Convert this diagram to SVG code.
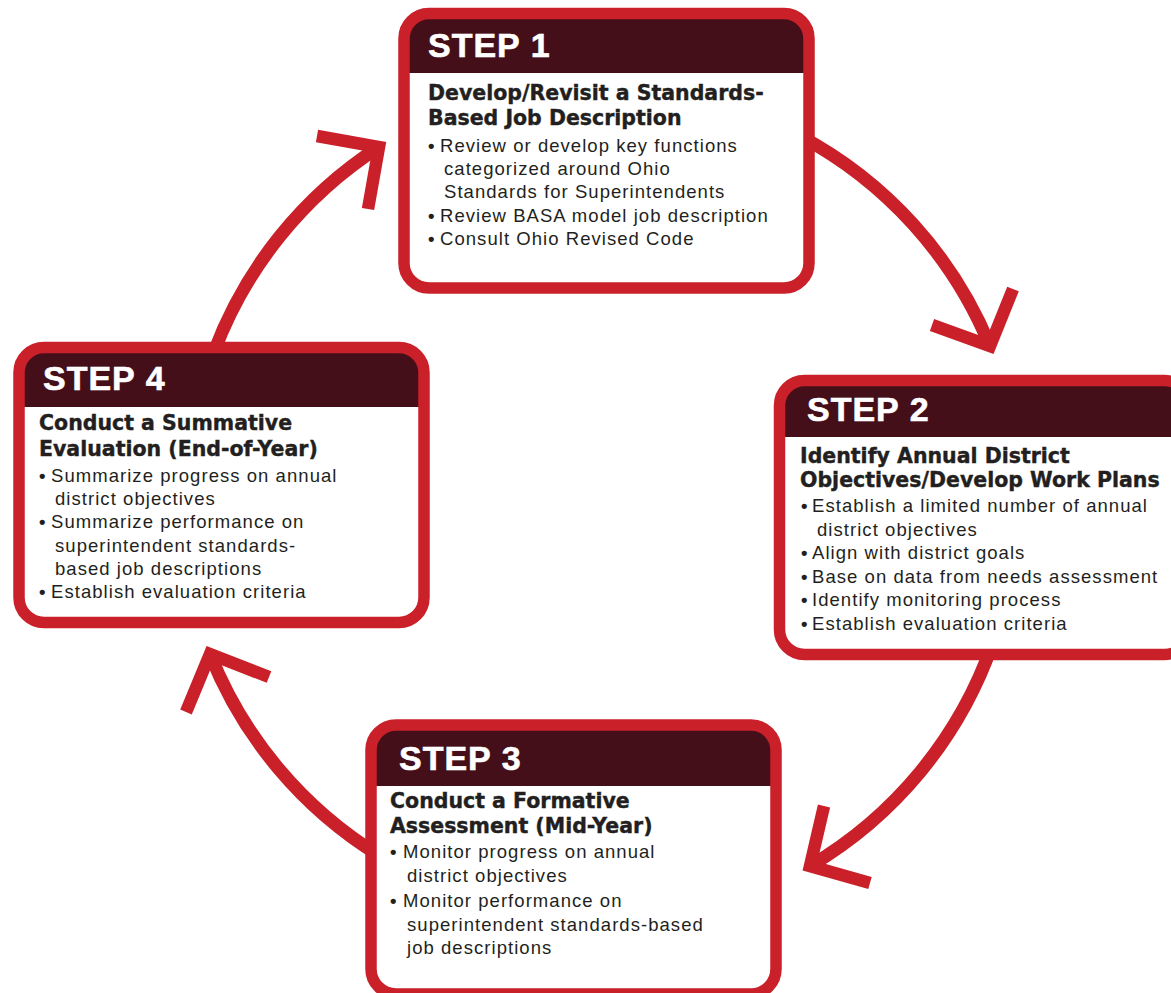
<svg xmlns="http://www.w3.org/2000/svg" width="1171" height="993" viewBox="0 0 1171 993">
<style>
.arc{fill:none;stroke:#c9202a;stroke-width:13;stroke-linecap:butt}
.head{fill:none;stroke:#c9202a;stroke-width:12.5;stroke-linejoin:miter;stroke-miterlimit:10;stroke-linecap:butt}
.body{fill:#ffffff}
.hdr{fill:#450f1a}
.border{fill:none;stroke:#c9202a;stroke-width:11.5}
.step{font-family:"Liberation Sans",Arial,sans-serif;font-weight:bold;font-size:34px;letter-spacing:1px;fill:#ffffff;stroke:#ffffff;stroke-width:0.6}
.ttl{font-family:"DejaVu Sans",sans-serif;font-weight:bold;font-size:20.5px;fill:#231f20;stroke:#231f20;stroke-width:0.4}
.txt{font-family:"Liberation Sans",Arial,sans-serif;font-size:18.5px;letter-spacing:1.05px;fill:#231f20}
.b{font-weight:bold}
</style>
<rect width="1171" height="993" fill="#ffffff"/>
<g id="connectors">
<path class="arc" d="M214,352 A418,418 0 0 1 379,147"/>
<polyline class="head" points="317,136 379,147 368,209"/>
<path class="arc" d="M800,136 A418,418 0 0 1 990,346"/>
<polyline class="head" points="932,325 990,346 1013,289"/>
<path class="arc" d="M992,645 A418,418 0 0 1 810,866"/>
<polyline class="head" points="824,806 810,866 870,883"/>
<path class="arc" d="M380,856 A418,418 0 0 1 210,654"/>
<polyline class="head" points="186,712 210,654 269,677"/>
</g>
<g id="step1">
<rect class="body" x="404" y="13.5" width="405" height="274.5" rx="25"/>
<path class="hdr" d="M404,73 V38.5 A25,25 0 0 1 429,13.5 H784 A25,25 0 0 1 809,38.5 V73 Z"/>
<rect class="border" x="404" y="13.5" width="405" height="274.5" rx="25"/>
<text class="step" x="428" y="57">STEP 1</text>
<text class="ttl" x="428" y="100">Develop/Revisit a Standards-</text>
<text class="ttl" x="428" y="125">Based Job Description</text>
<text class="txt" x="428" y="152"><tspan class="b">•</tspan><tspan x="440">Review or develop key functions</tspan></text>
<text class="txt" x="444" y="175">categorized around Ohio</text>
<text class="txt" x="444" y="198">Standards for Superintendents</text>
<text class="txt" x="428" y="222"><tspan class="b">•</tspan><tspan x="440">Review BASA model job description</tspan></text>
<text class="txt" x="428" y="245"><tspan class="b">•</tspan><tspan x="440">Consult Ohio Revised Code</tspan></text>
</g>
<g id="step2">
<rect class="body" x="779.5" y="380.5" width="410" height="274" rx="25"/>
<path class="hdr" d="M779.5,437 V405.5 A25,25 0 0 1 804.5,380.5 H1164.5 A25,25 0 0 1 1189.5,405.5 V437 Z"/>
<rect class="border" x="779.5" y="380.5" width="410" height="274" rx="25"/>
<text class="step" x="807" y="421">STEP 2</text>
<text class="ttl" x="800" y="463">Identify Annual District</text>
<text class="ttl" x="800" y="487">Objectives/Develop Work Plans</text>
<text class="txt" x="801" y="512"><tspan class="b">•</tspan><tspan x="812">Establish a limited number of annual</tspan></text>
<text class="txt" x="817" y="536">district objectives</text>
<text class="txt" x="801" y="559"><tspan class="b">•</tspan><tspan x="812">Align with district goals</tspan></text>
<text class="txt" x="801" y="583"><tspan class="b">•</tspan><tspan x="812">Base on data from needs assessment</tspan></text>
<text class="txt" x="801" y="606"><tspan class="b">•</tspan><tspan x="812">Identify monitoring process</tspan></text>
<text class="txt" x="801" y="630"><tspan class="b">•</tspan><tspan x="812">Establish evaluation criteria</tspan></text>
</g>
<g id="step3">
<rect class="body" x="371" y="725" width="405" height="269" rx="25"/>
<path class="hdr" d="M371,786 V750 A25,25 0 0 1 396,725 H751 A25,25 0 0 1 776,750 V786 Z"/>
<rect class="border" x="371" y="725" width="405" height="269" rx="25"/>
<text class="step" x="399" y="770">STEP 3</text>
<text class="ttl" x="390" y="808">Conduct a Formative</text>
<text class="ttl" x="390" y="833">Assessment (Mid-Year)</text>
<text class="txt" x="390" y="858"><tspan class="b">•</tspan><tspan x="403">Monitor progress on annual</tspan></text>
<text class="txt" x="407" y="882">district objectives</text>
<text class="txt" x="390" y="907"><tspan class="b">•</tspan><tspan x="403">Monitor performance on</tspan></text>
<text class="txt" x="407" y="931">superintendent standards-based</text>
<text class="txt" x="407" y="954">job descriptions</text>
</g>
<g id="step4">
<rect class="body" x="19" y="347.5" width="405" height="275" rx="25"/>
<path class="hdr" d="M19,407 V372.5 A25,25 0 0 1 44,347.5 H399 A25,25 0 0 1 424,372.5 V407 Z"/>
<rect class="border" x="19" y="347.5" width="405" height="275" rx="25"/>
<text class="step" x="43" y="390">STEP 4</text>
<text class="ttl" x="39" y="430">Conduct a Summative</text>
<text class="ttl" x="39" y="456">Evaluation (End-of-Year)</text>
<text class="txt" x="39" y="482"><tspan class="b">•</tspan><tspan x="51">Summarize progress on annual</tspan></text>
<text class="txt" x="55" y="505">district objectives</text>
<text class="txt" x="39" y="528"><tspan class="b">•</tspan><tspan x="51">Summarize performance on</tspan></text>
<text class="txt" x="55" y="552">superintendent standards-</text>
<text class="txt" x="55" y="575">based job descriptions</text>
<text class="txt" x="39" y="598"><tspan class="b">•</tspan><tspan x="51">Establish evaluation criteria</tspan></text>
</g>
</svg>
